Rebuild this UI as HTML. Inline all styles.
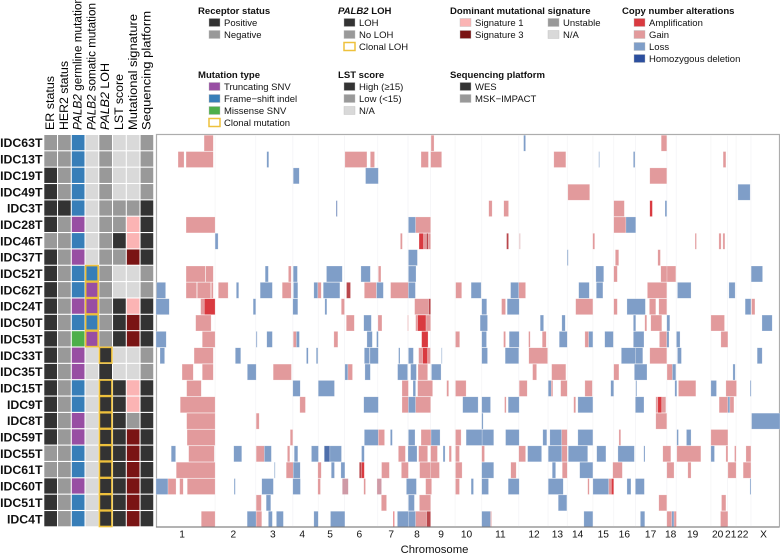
<!DOCTYPE html>
<html>
<head>
<meta charset="utf-8">
<title>PALB2 copy number heatmap</title>
<style>
html,body{margin:0;padding:0;background:#fff;width:780px;height:554px;overflow:hidden}
svg{display:block;font-family:"Liberation Sans",sans-serif}
.lg{font-size:9.5px;fill:#111}
.lt{font-size:9.55px;font-weight:bold;fill:#111}
.ct{font-size:12.4px;fill:#000}
</style>
</head>
<body>
<svg id="chart" width="780" height="554" viewBox="0 0 780 554" xmlns="http://www.w3.org/2000/svg"></svg>
<script>
const samples = ["IDC63T","IDC13T","IDC19T","IDC49T","IDC3T","IDC28T","IDC46T","IDC37T","IDC52T","IDC62T","IDC24T","IDC50T","IDC53T","IDC33T","IDC35T","IDC15T","IDC9T","IDC8T","IDC59T","IDC55T","IDC61T","IDC60T","IDC51T","IDC4T"];
const trackNames = ["ER status","HER2 status","PALB2 germline mutation","PALB2 somatic mutation","PALB2 LOH","LST score","Mutational signature","Sequencing platform"];
const erStatus = ["neg","neg","pos","pos","pos","pos","neg","pos","pos","pos","pos","pos","pos","pos","pos","pos","pos","pos","pos","neg","neg","pos","pos","pos"];
const her2Status = ["neg","neg","neg","neg","pos","neg","neg","neg","neg","neg","neg","neg","neg","neg","neg","neg","neg","neg","neg","neg","neg","neg","neg","neg"];
const germline = ["fs","fs","fs","fs","fs","trunc","fs","trunc","fs","fs","trunc","fs","mis","trunc","trunc","fs","fs","trunc","trunc","fs","fs","trunc","fs","fs"];
const somatic = ["na","na","na","na","na","na","na","na","fs*","trunc*","trunc*","fs*","trunc*","na","na","na","na","na","na","na","na","na","na","na"];
const loh = ["neg","neg","neg","neg","neg","neg","neg","neg","neg","neg","neg","neg","neg","pos*","pos","pos*","pos*","pos*","pos*","pos*","pos*","pos*","pos*","pos*"];
const lst = ["na","na","na","na","neg","neg","pos","neg","na","na","pos","pos","pos","na","na","pos","pos","pos","pos","pos","pos","pos","pos","pos"];
const signature = ["na","na","na","na","neg","sig1","sig1","sig3","na","na","sig1","sig3","sig3","na","na","sig1","sig1","neg","sig3","sig3","sig3","sig3","sig3","sig3"];
const platform = ["neg","neg","neg","neg","pos","pos","pos","pos","neg","neg","pos","pos","pos","neg","neg","pos","pos","pos","pos","pos","pos","pos","pos","pos"];
const tracks = [erStatus,her2Status,germline,somatic,loh,lst,signature,platform];

const chromLabels = ["1","2","3","4","5","6","7","8","9","10","11","12","13","14","15","16","17","18","19","20","21","22","X"];
const chromCenters = [130,386,583,730,869,1015,1174,1303,1423,1550,1719,1887,2004,2105,2233,2338,2469,2569,2679,2804,2869,2929,3033];
const chromEnds = [295,498,683,810,941,1107,1258,1371,1493,1626,1811,1957,2053,2181,2285,2393,2550,2597,2770,2853,2896,2970];
const genomeLength = 3115;

const segIDC63T = [[240,286,"G"],[1373,1388,"G"],[1835,1845,"L"],[2522,2550,"G"]];
const segIDC13T = [[110,140,"G"],[150,286,"G"],[553,563,"L"],[943,1053,"G"],[1070,1091,"G"],[1323,1360,"G"],[1371,1426,"G"],[1986,2046,"G"],[2210,2214,"L"],[2383,2391,"L"],[2831,2845,"G"]];
const segIDC19T = [[685,715,"L"],[1046,1110,"L"],[2465,2550,"G"]];
const segIDC49T = [[2056,2165,"G"],[2905,2966,"L"]];
const segIDC3T = [[900,905,"D"],[1661,1678,"G"],[1736,1760,"G"],[2285,2338,"G"],[2465,2478,"A"],[2541,2550,"L"]];
const segIDC28T = [[150,295,"G"],[1260,1296,"L"],[1296,1371,"G"],[2285,2346,"G"],[2346,2395,"L"]];
const segIDC46T = [[295,310,"L"],[1220,1230,"G"],[1313,1336,"A"],[1336,1350,"G"],[1350,1360,"M"],[1360,1371,"G"],[1750,1760,"M"],[1811,1820,"F"],[2180,2190,"G"],[2691,2698,"G"],[2810,2821,"G"],[2830,2840,"G"]];
const segIDC37T = [[1260,1305,"L"],[2053,2058,"L"],[2293,2310,"G"],[2505,2518,"G"]];
const segIDC52T = [[150,246,"G"],[248,286,"G"],[545,561,"L"],[661,675,"G"],[685,706,"L"],[851,930,"L"],[1023,1070,"L"],[1110,1123,"G"],[1260,1298,"L"],[2196,2235,"L"],[2285,2303,"G"],[2520,2551,"G"],[2551,2595,"G"],[2971,3028,"L"]];
const segIDC62T = [[3,48,"L"],[150,203,"G"],[206,273,"G"],[276,286,"G"],[311,360,"G"],[401,413,"L"],[520,581,"L"],[630,675,"G"],[686,708,"L"],[788,808,"L"],[808,825,"G"],[835,918,"L"],[951,971,"M"],[1040,1100,"G"],[1101,1135,"L"],[1171,1260,"G"],[1260,1295,"L"],[1496,1526,"G"],[1573,1623,"L"],[1770,1811,"L"],[1811,1845,"G"],[2110,2163,"L"],[2198,2231,"L"],[2453,2550,"G"],[2603,2671,"L"],[2860,2891,"L"]];
const segIDC24T = [[0,66,"L"],[223,241,"G"],[241,295,"A"],[485,498,"L"],[683,708,"L"],[843,853,"L"],[925,941,"G"],[1291,1361,"G"],[1361,1371,"M"],[1626,1651,"L"],[1725,1745,"G"],[1753,1813,"L"],[2095,2181,"G"],[2285,2303,"G"],[2351,2443,"L"],[2463,2495,"G"],[2510,2550,"G"],[2941,2970,"L"],[2973,2990,"G"]];
const segIDC50T = [[198,275,"G"],[950,990,"G"],[1037,1075,"L"],[1108,1128,"G"],[1256,1260,"G"],[1296,1306,"G"],[1306,1348,"A"],[1348,1371,"G"],[1618,1655,"L"],[1918,1935,"L"],[2026,2043,"L"],[2383,2395,"L"],[2440,2450,"G"],[2470,2525,"G"],[2550,2565,"L"],[2770,2838,"G"],[3025,3076,"L"]];
const segIDC53T = [[0,51,"L"],[231,295,"G"],[500,505,"L"],[553,581,"L"],[685,701,"G"],[701,716,"L"],[888,908,"G"],[1053,1080,"L"],[1101,1110,"L"],[1326,1358,"A"],[1495,1516,"G"],[1626,1650,"L"],[1735,1745,"G"],[1763,1813,"L"],[1860,1868,"G"],[1928,1948,"G"],[2013,2053,"L"],[2141,2160,"G"],[2160,2181,"L"],[2240,2283,"L"],[2383,2436,"L"],[2513,2550,"G"],[2550,2561,"L"],[2598,2616,"L"],[2820,2855,"G"]];
const segIDC33T = [[20,43,"L"],[190,286,"G"],[396,423,"L"],[751,760,"L"],[800,808,"L"],[1040,1066,"L"],[1068,1110,"L"],[1211,1218,"L"],[1260,1285,"L"],[1311,1331,"G"],[1331,1356,"A"],[1356,1370,"G"],[1425,1428,"L"],[1626,1655,"L"],[1743,1811,"L"],[1861,1955,"G"],[2323,2393,"L"],[2393,2430,"L"],[2465,2550,"G"],[2603,2623,"L"],[3001,3026,"L"]];
const segIDC35T = [[130,186,"G"],[231,286,"G"],[456,500,"L"],[585,676,"G"],[943,958,"L"],[958,981,"G"],[1043,1070,"L"],[1206,1256,"L"],[1271,1300,"L"],[1308,1356,"G"],[1375,1423,"L"],[1880,1900,"G"],[1975,2046,"G"],[2285,2311,"G"],[2388,2451,"L"],[2551,2578,"G"],[2578,2595,"L"],[2880,2891,"L"]];
const segIDC15T = [[153,226,"G"],[683,720,"L"],[810,891,"L"],[1228,1260,"G"],[1283,1296,"L"],[1306,1381,"G"],[1451,1461,"G"],[1495,1548,"G"],[1813,1853,"G"],[1958,1973,"L"],[1973,1981,"G"],[2020,2053,"G"],[2141,2178,"G"],[2270,2285,"L"],[2395,2400,"L"],[2590,2600,"L"],[2608,2695,"G"],[2770,2798,"L"],[2845,2898,"G"],[2966,2971,"L"]];
const segIDC9T = [[121,295,"G"],[718,746,"G"],[1037,1110,"L"],[1228,1260,"G"],[1260,1296,"L"],[1296,1371,"G"],[1531,1608,"L"],[1626,1670,"L"],[1740,1748,"G"],[1758,1813,"L"],[2085,2095,"G"],[2106,2181,"L"],[2393,2436,"L"],[2495,2505,"G"],[2505,2525,"A"],[2525,2545,"G"],[2811,2855,"G"],[2855,2865,"L"],[2865,2885,"G"]];
const segIDC8T = [[153,295,"G"],[500,515,"G"],[1626,1633,"L"],[2495,2550,"G"],[2973,3115,"L"]];
const segIDC59T = [[155,295,"G"],[670,683,"G"],[1040,1110,"L"],[1110,1141,"G"],[1170,1180,"L"],[1260,1293,"L"],[1323,1373,"G"],[1373,1418,"L"],[1495,1523,"G"],[1548,1628,"L"],[1628,1686,"L"],[1745,1813,"L"],[1931,1951,"L"],[1966,2025,"L"],[2025,2053,"G"],[2106,2181,"L"],[2311,2320,"G"],[2600,2608,"L"],[2648,2671,"L"],[2770,2855,"G"]];
const segIDC55T = [[76,98,"L"],[163,291,"G"],[388,428,"L"],[500,541,"G"],[541,576,"L"],[656,668,"G"],[690,708,"L"],[776,811,"L"],[840,868,"D"],[868,926,"L"],[1026,1040,"L"],[1210,1245,"G"],[1258,1303,"L"],[1311,1356,"G"],[1371,1405,"G"],[1433,1443,"L"],[1463,1475,"G"],[1495,1515,"G"],[1626,1640,"G"],[1811,1845,"G"],[1855,1925,"L"],[1958,2026,"L"],[2026,2053,"G"],[2058,2155,"L"],[2200,2246,"L"],[2306,2388,"L"],[2435,2441,"L"],[2530,2570,"G"],[2600,2720,"G"],[2770,2788,"L"],[2845,2855,"G"],[2888,2896,"G"],[2945,2970,"G"]];
const segIDC61T = [[101,295,"G"],[591,595,"L"],[650,685,"G"],[685,720,"L"],[808,825,"G"],[875,891,"L"],[923,943,"L"],[1015,1026,"M"],[1026,1040,"A"],[1126,1165,"G"],[1225,1260,"G"],[1316,1371,"G"],[1371,1415,"G"],[1495,1528,"G"],[1626,1686,"L"],[1771,1798,"G"],[1978,1995,"L"],[2028,2053,"G"],[2115,2181,"L"],[2280,2328,"G"],[2550,2586,"G"],[2655,2671,"G"],[2855,2896,"G"],[2931,2970,"G"]];
const segIDC60T = [[0,60,"L"],[60,100,"G"],[118,136,"G"],[156,295,"G"],[390,396,"L"],[528,586,"L"],[683,721,"L"],[808,821,"G"],[930,960,"P"],[1037,1046,"G"],[1103,1126,"P"],[1250,1300,"L"],[1346,1376,"G"],[1495,1515,"G"],[1573,1585,"L"],[1626,1660,"L"],[1758,1813,"L"],[1958,2033,"L"],[2155,2163,"G"],[2181,2260,"L"],[2260,2273,"G"],[2273,2285,"A"],[2351,2371,"L"],[2393,2438,"L"],[2965,2970,"L"]];
const segIDC51T = [[500,526,"G"],[550,573,"L"],[1125,1151,"G"],[1260,1290,"L"],[1315,1371,"G"],[2008,2051,"L"],[2510,2550,"G"],[2823,2845,"G"]];
const segIDC4T = [[226,295,"G"],[455,500,"L"],[500,528,"G"],[561,581,"L"],[601,636,"L"],[788,810,"L"],[871,943,"L"],[1185,1190,"A"],[1205,1260,"L"],[1260,1296,"L"],[1296,1351,"G"],[1351,1371,"M"],[1626,1670,"L"],[1670,1675,"G"],[2136,2181,"L"],[2418,2440,"L"],[2550,2575,"G"],[2575,2586,"L"],[2586,2598,"G"],[2818,2855,"G"]];
const segments = [segIDC63T,segIDC13T,segIDC19T,segIDC49T,segIDC3T,segIDC28T,segIDC46T,segIDC37T,segIDC52T,segIDC62T,segIDC24T,segIDC50T,segIDC53T,segIDC33T,segIDC35T,segIDC15T,segIDC9T,segIDC8T,segIDC59T,segIDC55T,segIDC61T,segIDC60T,segIDC51T,segIDC4T];

const svg = document.getElementById('chart');
const NS = 'http://www.w3.org/2000/svg';
const plotL = 156, plotR = 779, plotT = 135, plotB = 527, rowH = 16.35;
const titleLengths = {0:54,1:69,2:133,3:127,4:67,5:56,6:116,7:119};
const segColor = {G:'#e29a9c',L:'#7f9ec8',A:'#d93a40',M:'#b9474c',D:'#4f6fab',F:'#ecd6d8',P:'#cf9aa6'};
const cellColor = {pos:'#333333',neg:'#999999',na:'#d9d9d9',fs:'#377eb8',trunc:'#984ea3',mis:'#4daf4a',sig1:'#fbb4b4',sig3:'#7a1414'};
function gx(v){return plotL + v*(780-plotL)/genomeLength;}
function ry(i){return plotT + i*rowH;}
function hx(c){return 44.3 + c*13.75;}
function mk(tag,attrs,txt){
  const e = document.createElementNS(NS,tag);
  for(const k in attrs) e.setAttribute(k,attrs[k]);
  if(txt!==undefined) e.textContent = txt;
  svg.appendChild(e);
  return e;
}

// frame
const frame = mk('rect',{x:plotL+.5,y:plotT-.5,width:plotR-plotL,height:plotB-plotT+.5,fill:'#fff',stroke:'#adadad','stroke-width':1.2});



// chromosome gridlines
chromEnds.forEach(function(v){
  const l = mk('line',{x1:gx(v),x2:gx(v),y1:plotT,y2:plotB,stroke:'#f4f4f6','stroke-width':.8});
  
  
});

// copy-number segments
segments.forEach(function(list,i){
  list.forEach(function(s){
    const r = mk('rect',{x:gx(s[0]),y:ry(i)+.2,width:Math.max(gx(s[1])-gx(s[0]),.7),height:rowH-.4,fill:segColor[s[2]],stroke:'#fff','stroke-opacity':.45,'stroke-width':.5});
    
    
  });
});

// heatmap tracks
tracks.forEach(function(col,c){
  col.forEach(function(v,i){
    const key = v.replace('*','');
    const r = mk('rect',{x:hx(c),y:ry(i),width:12.7,height:rowH-1.1,fill:cellColor[key]});
    
    
  });
});
tracks.forEach(function(col,c){
  col.forEach(function(v,i){
    if(!v.endsWith('*')) return;
    const b = mk('rect',{x:hx(c)+.1,y:ry(i)-.2,width:12.5,height:rowH-.7,fill:'none',stroke:'#eec13c','stroke-width':1.6});
    
    
  });
});

// row labels
samples.forEach(function(s,i){
  const t = mk('text',{x:42.5,y:ry(i)+12.2,'text-anchor':'end','font-size':12.3,'font-weight':'bold',fill:'#111'},s);
  
  
});

// track titles
trackNames.forEach(function(n,c){
  const bx = 54 + c*13.8;
  const t = mk('text',{class:'ct',textLength:titleLengths[c],lengthAdjust:'spacingAndGlyphs',transform:'translate('+bx+',130) rotate(-90)'});
  
  
  if(n.indexOf('PALB2')===0){
    const a = document.createElementNS(NS,'tspan');
    a.setAttribute('font-style','italic');
    a.textContent = 'PALB2';
    t.appendChild(a);
    t.appendChild(document.createTextNode(n.slice(5)));
  } else {
    t.textContent = n;
  }
});

// x axis
const axis = mk('line',{x1:plotL,x2:plotR,y1:plotB,y2:plotB,stroke:'#777','stroke-width':1});


chromLabels.forEach(function(n,i){
  const t = mk('text',{x:gx(chromCenters[i]),y:537.5,'text-anchor':'middle','font-size':10.2,fill:'#111'},n);
  
  
});
const xt = mk('text',{x:434.5,y:553,'text-anchor':'middle','font-size':11.3,fill:'#111'},'Chromosome');



// legends
function title(x,y,txt,ital){
  const t = mk('text',{class:'lt',x:x,y:y});
  
  
  if(ital){
    const a = document.createElementNS(NS,'tspan');
    a.setAttribute('font-style','italic');
    a.textContent = ital;
    t.appendChild(a);
  }
  t.appendChild(document.createTextNode(txt));
}
function item(sx,y,color,txt,outline){
  const r = mk('rect',{x:sx,y:y-7.5,width:11,height:8,fill:outline?'none':color,stroke:outline?'#eec13c':'#bbb','stroke-width':outline?1.5:.4});
  
  
  const t = mk('text',{class:'lg',x:sx+15,y:y},txt);
  
  
}
title(198,14,'Receptor status');
item(209,26,'#333333','Positive');
item(209,38,'#999999','Negative');
title(338,14,' LOH','PALB2');
item(344,26,'#333333','LOH');
item(344,38,'#999999','No LOH');
item(344,50,'#fff','Clonal LOH',true);
title(450,14,'Dominant mutational signature');
item(460,26,'#fbb4b4','Signature 1');
item(460,38,'#7a1414','Signature 3');
item(548,26,'#999999','Unstable');
item(548,38,'#d9d9d9','N/A');
title(622,14,'Copy number alterations');
item(634,26,'#d93a40','Amplification');
item(634,38,'#e29a9c','Gain');
item(634,50,'#7f9ec8','Loss');
item(634,62,'#2c4f9e','Homozygous deletion');
title(198,78,'Mutation type');
item(209,90,'#984ea3','Truncating SNV');
item(209,102,'#377eb8','Frame\u2212shift indel');
item(209,114,'#4daf4a','Missense SNV');
item(209,126,'#fff','Clonal mutation',true);
title(338,78,'LST score');
item(344,90,'#333333','High (\u226515)');
item(344,102,'#999999','Low (<15)');
item(344,114,'#d9d9d9','N/A');
title(450,78,'Sequencing platform');
item(460,90,'#333333','WES');
item(460,102,'#999999','MSK\u2212IMPACT');
</script>
</body>
</html>
